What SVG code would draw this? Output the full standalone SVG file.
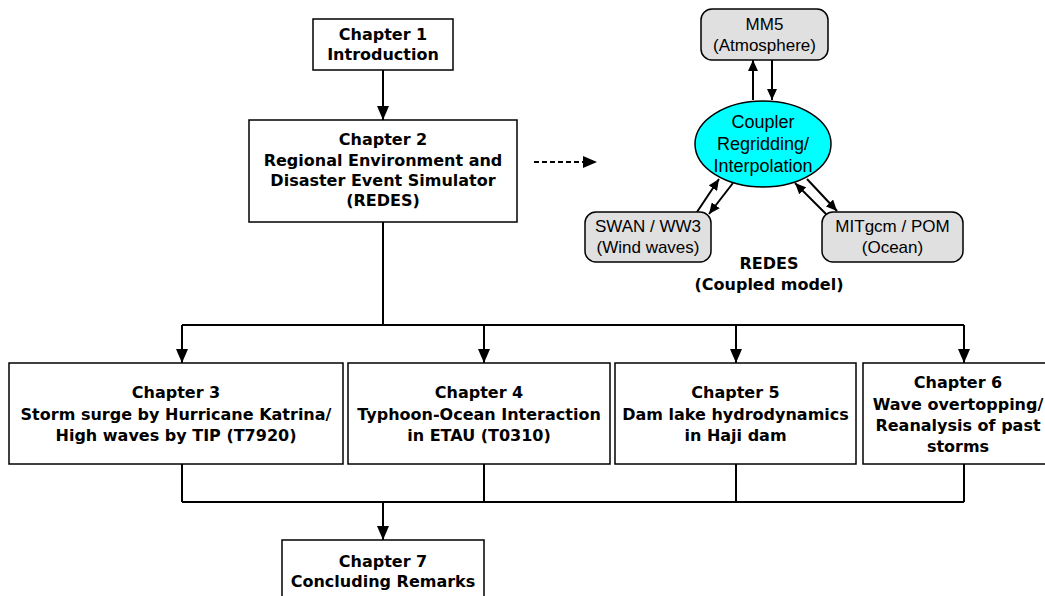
<svg xmlns="http://www.w3.org/2000/svg" width="1045" height="596" viewBox="0 0 1045 596">
<style>
.box{fill:#fff;stroke:#000;stroke-width:1.5}
.rbox{fill:#e0e0e0;stroke:#000;stroke-width:1.5}
.b{font-family:"DejaVu Sans",Verdana,sans-serif;font-weight:bold;font-size:16px;text-anchor:middle;fill:#000}
.r{font-family:"Liberation Sans",Arial,sans-serif;font-size:17px;text-anchor:middle;fill:#000}
.c{font-family:"Liberation Sans",Arial,sans-serif;font-size:18px;text-anchor:middle;fill:#000}
.ln{fill:none;stroke:#000;stroke-width:2}
.arr{fill:none;stroke:#000;stroke-width:2;marker-end:url(#ah)}
.sarr{fill:none;stroke:#000;stroke-width:2;marker-end:url(#sh)}
</style>
<defs>
<marker id="ah" markerUnits="userSpaceOnUse" markerWidth="14" markerHeight="12" viewBox="0 0 14 12" refX="14" refY="6" orient="auto"><path d="M0,0 L14,6 L0,12 Z" fill="#000"/></marker>
<marker id="sh" markerUnits="userSpaceOnUse" markerWidth="11" markerHeight="10" viewBox="0 0 11 10" refX="11" refY="5" orient="auto"><path d="M0,0 L11,5 L0,10 Z" fill="#000"/></marker>
</defs>
<rect width="1045" height="596" fill="#fff"/>
<g id="connectors">
<path class="arr" d="M383,70 V120"/>
<path class="ln" d="M383,222 V325 M182,325 H964"/>
<path class="arr" d="M182,325 V363"/>
<path class="arr" d="M484,325 V363"/>
<path class="arr" d="M736,325 V363"/>
<path class="arr" d="M964,325 V363"/>
<path class="ln" d="M182,464 V502 M484,464 V502 M736,464 V502 M964,464 V502 M182,502 H964"/>
<path class="arr" d="M383,502 V540"/>
<path class="arr" d="M534,162 H597" stroke-dasharray="5,3"/>
<path class="sarr" d="M753,100 V60"/>
<path class="sarr" d="M772,60 V100"/>
<path class="sarr" d="M697,212 L719,179"/>
<path class="sarr" d="M733,183 L709,214"/>
<path class="sarr" d="M807,179 L837,211"/>
<path class="sarr" d="M827,215 L795,183"/>
</g>
<g id="ch1"><rect class="box" x="313" y="19" width="140" height="51"/><text class="b" x="383" y="40">Chapter 1</text><text class="b" x="383" y="60">Introduction</text></g>
<g id="ch2"><rect class="box" x="249" y="120" width="268" height="102"/><text class="b" x="383" y="145">Chapter 2</text><text class="b" x="383" y="166">Regional Environment and</text><text class="b" x="383" y="186">Disaster Event Simulator</text><text class="b" x="383" y="206">(REDES)</text></g>
<g id="mm5"><rect class="rbox" x="701" y="9" width="127" height="51" rx="11"/><text class="r" x="764.5" y="30">MM5</text><text class="r" x="764.5" y="51">(Atmosphere)</text></g>
<g id="coupler"><ellipse cx="763" cy="144" rx="68" ry="43" fill="#00ffff" stroke="#000" stroke-width="1.5"/><text class="c" x="763" y="128">Coupler</text><text class="c" x="763" y="150">Regridding/</text><text class="c" x="763" y="172">Interpolation</text></g>
<g id="swan"><rect class="rbox" x="585" y="212" width="126" height="50" rx="11"/><text class="r" x="648" y="232">SWAN / WW3</text><text class="r" x="648" y="253">(Wind waves)</text></g>
<g id="mitgcm"><rect class="rbox" x="822" y="212" width="141" height="50" rx="11"/><text class="r" x="892.5" y="232">MITgcm / POM</text><text class="r" x="892.5" y="253">(Ocean)</text></g>
<g id="redes-label"><text class="b" x="769" y="269">REDES</text><text class="b" x="769" y="290">(Coupled model)</text></g>
<g id="ch3"><rect class="box" x="9" y="363" width="334" height="101"/><text class="b" x="176" y="398">Chapter 3</text><text class="b" x="176" y="420">Storm surge by Hurricane Katrina/</text><text class="b" x="176" y="441">High waves by TIP (T7920)</text></g>
<g id="ch4"><rect class="box" x="348" y="363" width="262" height="101"/><text class="b" x="479" y="398">Chapter 4</text><text class="b" x="479" y="420">Typhoon-Ocean Interaction</text><text class="b" x="479" y="441">in ETAU (T0310)</text></g>
<g id="ch5"><rect class="box" x="615" y="363" width="241" height="101"/><text class="b" x="735.5" y="398">Chapter 5</text><text class="b" x="735.5" y="420">Dam lake hydrodynamics</text><text class="b" x="735.5" y="441">in Haji dam</text></g>
<g id="ch6"><rect class="box" x="863" y="363" width="186" height="101"/><text class="b" x="958" y="388">Chapter 6</text><text class="b" x="958" y="410">Wave overtopping/</text><text class="b" x="958" y="431">Reanalysis of past</text><text class="b" x="958" y="452">storms</text></g>
<g id="ch7"><rect class="box" x="282" y="540" width="202" height="62"/><text class="b" x="383" y="567">Chapter 7</text><text class="b" x="383" y="587">Concluding Remarks</text></g>
</svg>
